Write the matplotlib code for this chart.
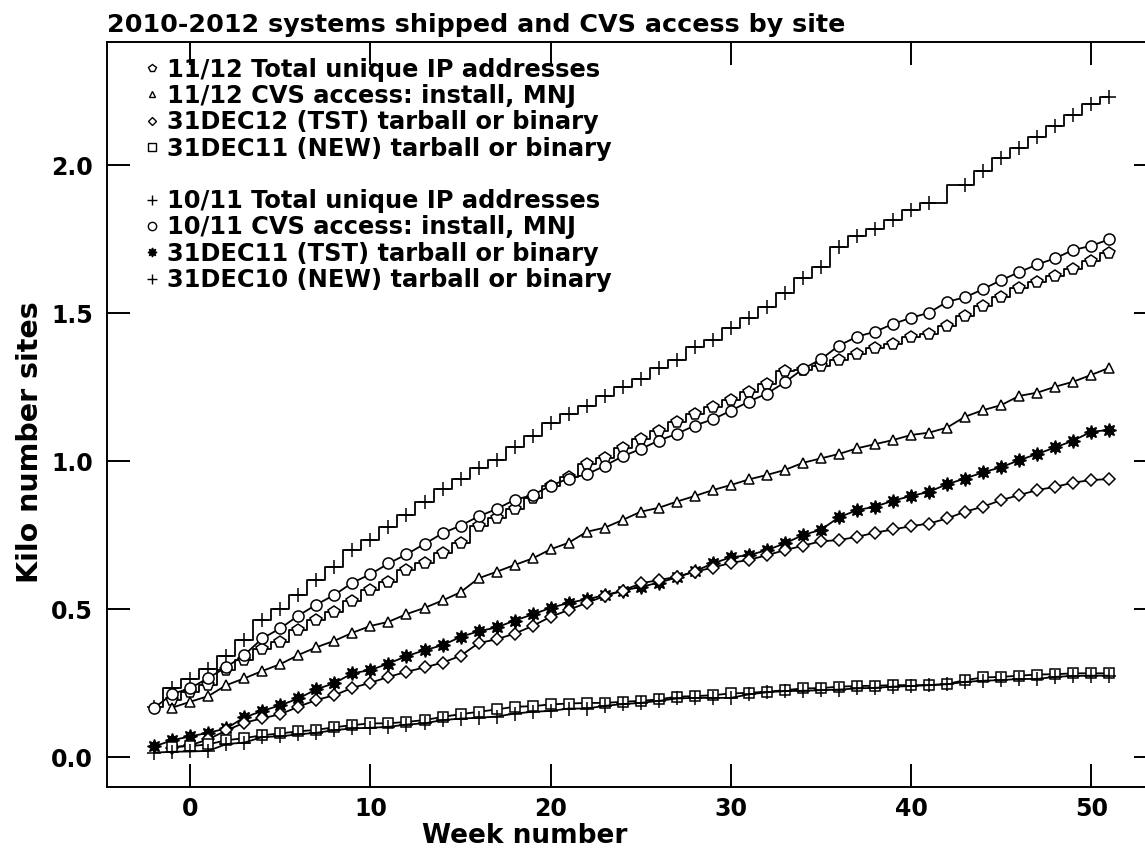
import matplotlib
matplotlib.use("Agg")
import matplotlib.pyplot as plt
from matplotlib.lines import Line2D

plt.rcParams['font.family'] = ['DejaVu Sans']
plt.rcParams['font.weight'] = 'bold'

# weeks: 10/11 series start at -2, 11/12 series start at -1
weeks_1011 = list(range(-2, 52))
weeks_1112 = list(range(-1, 52))
# 10/11 total has no point in week 42
weeks_total_1011 = [w for w in weeks_1011 if w != 42]

total_1011 = [0.168, 0.232, 0.265, 0.298, 0.342, 0.395, 0.463, 0.500, 0.546, 0.598,
              0.643, 0.699, 0.735, 0.778, 0.818, 0.863, 0.906, 0.940, 0.975, 1.005,
              1.048, 1.084, 1.130, 1.159, 1.186, 1.219, 1.251, 1.278, 1.313, 1.343,
              1.386, 1.409, 1.448, 1.482, 1.521, 1.566, 1.620, 1.656, 1.724, 1.759,
              1.785, 1.814, 1.847, 1.872, 1.932, 1.980, 2.022, 2.059, 2.096, 2.133,
              2.169, 2.206, 2.231]

cvs_1011 = [0.166, 0.213, 0.233, 0.267, 0.304, 0.345, 0.401, 0.435, 0.478, 0.515,
            0.548, 0.589, 0.618, 0.654, 0.685, 0.720, 0.756, 0.782, 0.813, 0.838,
            0.869, 0.885, 0.917, 0.941, 0.955, 0.984, 1.016, 1.041, 1.069, 1.092,
            1.120, 1.141, 1.170, 1.201, 1.228, 1.266, 1.311, 1.344, 1.390, 1.420,
            1.437, 1.463, 1.484, 1.501, 1.538, 1.553, 1.581, 1.611, 1.638, 1.664,
            1.685, 1.713, 1.727, 1.749]

tst_dec11 = [0.036, 0.057, 0.070, 0.082, 0.097, 0.134, 0.156, 0.175, 0.198, 0.229,
             0.250, 0.283, 0.294, 0.316, 0.341, 0.361, 0.378, 0.406, 0.425, 0.438,
             0.461, 0.482, 0.504, 0.521, 0.533, 0.547, 0.562, 0.575, 0.589, 0.607,
             0.628, 0.654, 0.675, 0.682, 0.699, 0.722, 0.750, 0.768, 0.810, 0.834,
             0.846, 0.866, 0.882, 0.896, 0.922, 0.941, 0.962, 0.979, 1.003, 1.024,
             1.046, 1.069, 1.099, 1.105]

new_dec10 = [0.015, 0.018, 0.019, 0.021, 0.044, 0.049, 0.068, 0.070, 0.077, 0.082,
             0.091, 0.097, 0.099, 0.102, 0.110, 0.114, 0.125, 0.130, 0.133, 0.137,
             0.147, 0.153, 0.156, 0.164, 0.164, 0.173, 0.179, 0.183, 0.190, 0.198,
             0.200, 0.200, 0.200, 0.212, 0.219, 0.223, 0.224, 0.226, 0.228, 0.232,
             0.234, 0.238, 0.240, 0.243, 0.246, 0.254, 0.258, 0.260, 0.264, 0.264,
             0.271, 0.274, 0.275, 0.275]

total_1112 = [0.193, 0.221, 0.243, 0.294, 0.328, 0.364, 0.390, 0.429, 0.463, 0.489,
              0.528, 0.566, 0.592, 0.632, 0.656, 0.691, 0.724, 0.780, 0.806, 0.838,
              0.874, 0.915, 0.947, 0.989, 1.011, 1.045, 1.075, 1.103, 1.133, 1.158,
              1.183, 1.205, 1.233, 1.261, 1.305, 1.307, 1.321, 1.341, 1.361, 1.381,
              1.395, 1.418, 1.429, 1.456, 1.490, 1.524, 1.553, 1.583, 1.606, 1.625,
              1.648, 1.676, 1.702]

cvs_1112 = [0.167, 0.187, 0.206, 0.243, 0.266, 0.291, 0.314, 0.345, 0.371, 0.393,
            0.420, 0.443, 0.457, 0.483, 0.504, 0.529, 0.557, 0.604, 0.626, 0.649,
            0.671, 0.702, 0.724, 0.761, 0.775, 0.801, 0.829, 0.842, 0.863, 0.882,
            0.902, 0.919, 0.938, 0.953, 0.970, 0.994, 1.009, 1.024, 1.043, 1.057,
            1.071, 1.088, 1.096, 1.113, 1.150, 1.172, 1.189, 1.220, 1.231, 1.251,
            1.268, 1.291, 1.315]

tst_dec12 = [0.032, 0.040, 0.060, 0.090, 0.116, 0.131, 0.145, 0.170, 0.193, 0.209,
             0.234, 0.251, 0.271, 0.288, 0.303, 0.319, 0.342, 0.385, 0.398, 0.417,
             0.443, 0.474, 0.497, 0.521, 0.544, 0.562, 0.587, 0.598, 0.609, 0.626,
             0.640, 0.656, 0.666, 0.682, 0.699, 0.714, 0.729, 0.733, 0.744, 0.758,
             0.769, 0.780, 0.789, 0.806, 0.829, 0.846, 0.868, 0.885, 0.902, 0.913,
             0.927, 0.936, 0.939]

new_dec11 = [0.035, 0.037, 0.043, 0.057, 0.064, 0.074, 0.080, 0.087, 0.092, 0.101,
             0.108, 0.114, 0.114, 0.119, 0.125, 0.136, 0.145, 0.153, 0.161, 0.170,
             0.172, 0.178, 0.181, 0.183, 0.183, 0.187, 0.190, 0.195, 0.204, 0.206,
             0.209, 0.215, 0.217, 0.221, 0.226, 0.232, 0.233, 0.238, 0.240, 0.241,
             0.243, 0.243, 0.243, 0.247, 0.260, 0.269, 0.271, 0.275, 0.279, 0.280,
             0.283, 0.283, 0.283]

labels_1112 = ["11/12 Total unique IP addresses", "11/12 CVS access: install, MNJ",
               "31DEC12 (TST) tarball or binary", "31DEC11 (NEW) tarball or binary"]
labels_1011 = ["10/11 Total unique IP addresses", "10/11 CVS access: install, MNJ",
               "31DEC11 (TST) tarball or binary", "31DEC10 (NEW) tarball or binary"]

star8 = (8, 1, 0)

fig = plt.figure(figsize=(11.45, 8.52), dpi=100)
ax = fig.add_axes([107/1145, 1-787/852, 1050/1145, 745/852])

lw = 1.3
kw = dict(color='black', lw=lw, mec='black', mew=1.1)
ax.plot(weeks_total_1011, total_1011, marker='+', ms=10, drawstyle='steps-mid', **kw)
ax.plot(weeks_1112, total_1112, marker='p', ms=8.5, mfc='white', drawstyle='steps-mid', **kw)
ax.plot(weeks_1011, cvs_1011, marker='o', ms=8, mfc='white', **kw)
ax.plot(weeks_1112, cvs_1112, marker='^', ms=7, mfc='white', **kw)
ax.plot(weeks_1011, tst_dec11, marker=star8, ms=10, mfc='black', **kw)
ax.plot(weeks_1112, tst_dec12, marker='D', ms=6, mfc='white', **kw)
ax.plot(weeks_1112, new_dec11, marker='s', ms=7.5, mfc='white', **kw)
ax.plot(weeks_1011, new_dec10, marker='+', ms=10, **kw)

ax.set_xlim(-4.62, 53.65)
ax.set_ylim(-0.101, 2.4155)
ax.set_xticks([0, 10, 20, 30, 40, 50])
ax.set_yticks([0.0, 0.5, 1.0, 1.5, 2.0])
ax.set_yticklabels(['0.0', '0.5', '1.0', '1.5', '2.0'])
ax.tick_params(direction='in', length=16.5, width=1.4, top=True, right=True,
               labelsize=17)
ax.tick_params(axis='x', pad=7)
ax.tick_params(axis='y', pad=10)
for s in ax.spines.values():
    s.set_linewidth(1.4)

fig.text(525/1145, 1-836/852, 'Week number', fontsize=19, fontweight='bold',
         ha='center', va='center')
fig.text(30/1145, 1-442/852, 'Kilo number sites', fontsize=20.5, fontweight='bold',
         ha='center', va='center', rotation=90)
fig.text(107/1145, 1-32/852, '2010-2012 systems shipped and CVS access by site',
         fontsize=18.3, fontweight='bold', va='baseline', ha='left')

# legend: 11/12 group, blank row, 10/11 group
mk = dict(color='black', ls='none', mec='black', mew=1.0)
handles = [
    Line2D([], [], marker='p', ms=6, mfc='white', **mk),
    Line2D([], [], marker='^', ms=5, mfc='white', **mk),
    Line2D([], [], marker='D', ms=4.5, mfc='white', **mk),
    Line2D([], [], marker='s', ms=5.5, mfc='white', **mk),
    Line2D([], [], ls='none'),
    Line2D([], [], marker='+', ms=7, **mk),
    Line2D([], [], marker='o', ms=6, mfc='white', **mk),
    Line2D([], [], marker=star8, ms=6.5, mfc='black', **mk),
    Line2D([], [], marker='+', ms=7, **mk),
]
labels = labels_1112 + [' '] + labels_1011
ax.legend(handles, labels, loc='upper left', bbox_to_anchor=(0.031, 0.979),
          frameon=False, fontsize=17.4, handlelength=1.0, handletextpad=0.15,
          labelspacing=0.095, borderpad=0, borderaxespad=0)

fig.savefig('out.png', dpi=100)
